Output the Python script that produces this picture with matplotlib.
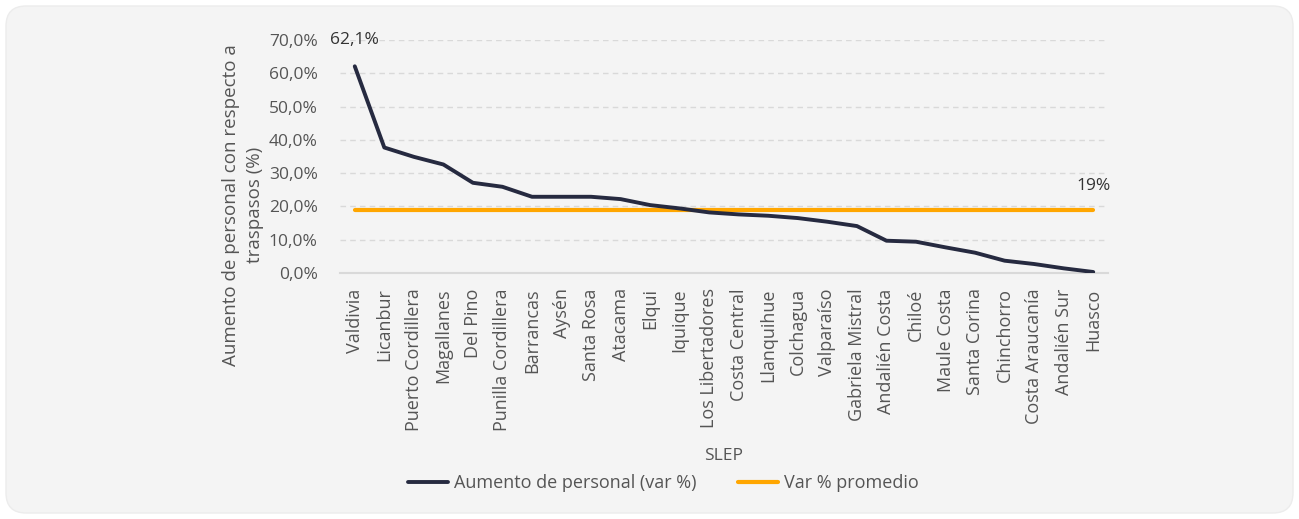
import matplotlib.pyplot as plt
from matplotlib.patches import FancyBboxPatch
from matplotlib.ticker import FuncFormatter

# Datos
slep = ['Valdivia', 'Licanbur', 'Puerto Cordillera', 'Magallanes', 'Del Pino',
        'Punilla Cordillera', 'Barrancas', 'Aysén', 'Santa Rosa', 'Atacama',
        'Elqui', 'Iquique', 'Los Libertadores', 'Costa Central', 'Llanquihue',
        'Colchagua', 'Valparaíso', 'Gabriela Mistral', 'Andalién Costa', 'Chiloé',
        'Maule Costa', 'Santa Corina', 'Chinchorro', 'Costa Araucanía',
        'Andalién Sur', 'Huasco']
aumento = [62.1, 37.7, 34.9, 32.6, 27.1, 25.9, 22.9, 22.9, 22.9, 22.2,
           20.4, 19.4, 18.2, 17.6, 17.2, 16.5, 15.4, 14.1, 9.7, 9.4,
           7.7, 6.1, 3.7, 2.7, 1.4, 0.3]
promedio = 19

plt.rcParams['font.family'] = ['Open Sans', 'DejaVu Sans']
txt = '#555555'
fs = 12.5

fig = plt.figure(figsize=(12.99, 5.19), dpi=100)
fig.patch.set_facecolor('white')
bg = FancyBboxPatch((6, 6), 1287, 507, boxstyle='round,pad=0,rounding_size=20',
                    transform=None, facecolor='#f4f4f4', edgecolor='#ececec',
                    lw=1, zorder=-10)
fig.patches.append(bg)

ax = fig.add_axes([340 / 1299, 1 - 273 / 519, 768 / 1299, 233 / 519])
ax.set_facecolor('none')
ax.set_zorder(1)

x = range(len(slep))
ax.plot(x, aumento, color='#262a40', lw=2.8, solid_capstyle='round',
        label='Aumento de personal (var %)', zorder=3)
ax.plot(x, [promedio] * len(slep), color='#ffa600', lw=3.0,
        solid_capstyle='round', label='Var % promedio', zorder=2)

ax.text(0, 70, f'{aumento[0]:.1f}%'.replace('.', ','), ha='center',
        va='center', fontsize=fs, color='#333333')
ax.text(len(slep) - 1, 26, f'{promedio}%', ha='center', va='center',
        fontsize=fs, color='#333333')

ax.set_ylim(0, 70)
ax.set_xlim(-0.5, len(slep) - 0.5)
ax.set_yticks(range(0, 71, 10))
ax.yaxis.set_major_formatter(FuncFormatter(lambda v, p: f'{v:.1f}%'.replace('.', ',')))
ax.set_xticks(list(x))
ax.set_xticklabels(slep, rotation=90)
ax.tick_params(length=0, labelsize=fs, colors=txt, pad=11)
ax.tick_params(axis='x', labelsize=13)
ax.tick_params(axis='y', pad=16)
ax.grid(axis='y', color='#d9d9d9', ls=(0, (4, 3)), lw=1)
for s in ['top', 'right', 'left']:
    ax.spines[s].set_visible(False)
ax.spines['bottom'].set_color('#d9d9d9')
ax.spines['bottom'].set_linewidth(1.5)

ax.set_xlabel('SLEP', fontsize=fs, color=txt, labelpad=12)

fig.text(243 / 1299, 1 - 205 / 519,
         'Aumento de personal con respecto a\ntraspasos (%)', rotation=90,
         ha='center', va='center', multialignment='center', fontsize=13.5,
         color=txt, linespacing=1.4)

fig.legend(loc='center', bbox_to_anchor=(0.511, 1 - 483 / 519), ncol=2,
           frameon=False, fontsize=13, labelcolor=txt, handlelength=2.2,
           handletextpad=0.35, columnspacing=2.3)

fig.savefig('out.png', dpi=100)
